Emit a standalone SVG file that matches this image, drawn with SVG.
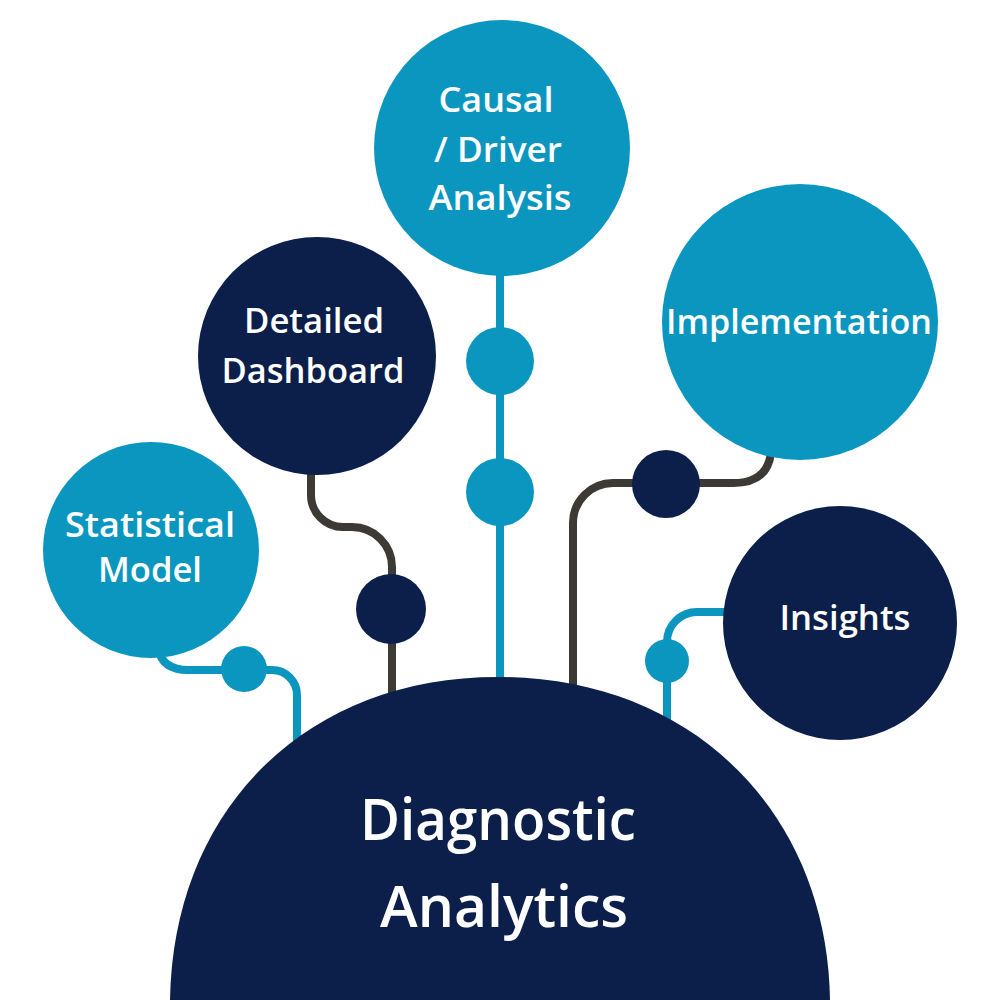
<svg xmlns="http://www.w3.org/2000/svg" width="1000" height="1000" viewBox="0 0 1000 1000">
<style>
.lb{fill:#0b96c0}
.nv{fill:#0b1f4a}
.cl{fill:none;stroke:#0b96c0;stroke-width:8}
.cg{fill:none;stroke:#3d3935;stroke-width:8}
text{fill:#fff;font-family:"Open Sans","Noto Sans",sans-serif;font-weight:600;text-anchor:middle}
.t{font-size:35px}
.big{font-size:58px}
</style>
<rect width="1000" height="1000" fill="#fff"/>
<g id="connectors">
<path class="cl" d="M500 270 V690"/>
<path class="cg" d="M311 468 V495 A32 32 0 0 0 343 527 H352 A40 40 0 0 1 392 567 V700"/>
<path class="cl" d="M158 648 Q162 670 188 670 H272 A25 25 0 0 1 297 695 V745"/>
<path class="cg" d="M771 452 Q768 483 733 483 H613 A40 40 0 0 0 573 523 V690"/>
<path class="cl" d="M730 612 H697 A30 30 0 0 0 667 642 V720"/>
<circle class="lb" cx="500" cy="361" r="34"/>
<circle class="lb" cx="500" cy="492" r="34"/>
<circle class="nv" cx="391" cy="609" r="35"/>
<circle class="lb" cx="244" cy="669" r="23"/>
<circle class="nv" cx="666" cy="484" r="34"/>
<circle class="lb" cx="667" cy="661" r="22"/>
</g>
<g id="causal">
<circle class="lb" cx="502" cy="148" r="128"/>
<text class="t" x="496" y="112" textLength="115" lengthAdjust="spacingAndGlyphs">Causal</text>
<text class="t" x="498" y="162" textLength="128" lengthAdjust="spacingAndGlyphs">/ Driver</text>
<text class="t" x="500" y="210" textLength="143" lengthAdjust="spacingAndGlyphs">Analysis</text>
</g>
<g id="implementation">
<circle class="lb" cx="800" cy="322" r="138"/>
<text class="t" x="799" y="334" textLength="266" lengthAdjust="spacingAndGlyphs">Implementation</text>
</g>
<g id="dashboard">
<circle class="nv" cx="317" cy="356" r="119"/>
<text class="t" x="314" y="333" textLength="140" lengthAdjust="spacingAndGlyphs">Detailed</text>
<text class="t" x="313" y="383" textLength="183" lengthAdjust="spacingAndGlyphs">Dashboard</text>
</g>
<g id="statistical">
<circle class="lb" cx="151" cy="550" r="108"/>
<text class="t" x="150" y="537" textLength="170" lengthAdjust="spacingAndGlyphs">Statistical</text>
<text class="t" x="150" y="582" textLength="104" lengthAdjust="spacingAndGlyphs">Model</text>
</g>
<g id="insights">
<circle class="nv" cx="840" cy="623" r="117"/>
<text class="t" x="845" y="630" textLength="131" lengthAdjust="spacingAndGlyphs">Insights</text>
</g>
<g id="diagnostic">
<path class="nv" d="M170 1000 C 173 810, 305 677, 498 677 C 690 677, 827 810, 830 1000 Z"/>
<text class="big" x="498" y="840" textLength="276" lengthAdjust="spacingAndGlyphs">Diagnostic</text>
<text class="big" x="504" y="927" textLength="248" lengthAdjust="spacingAndGlyphs">Analytics</text>
</g>
</svg>
